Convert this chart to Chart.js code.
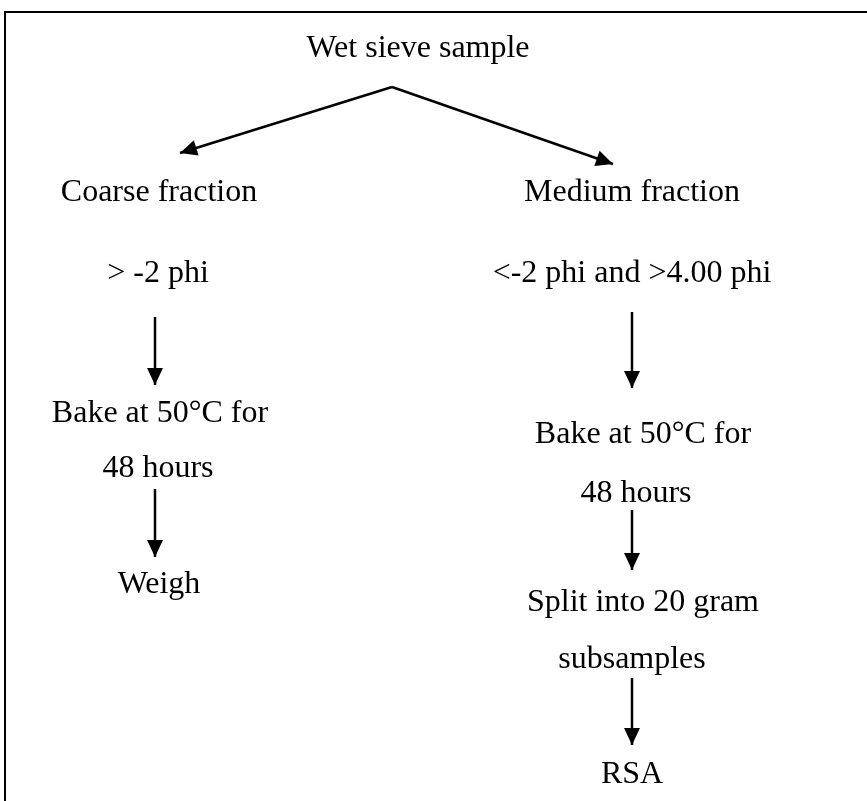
<!DOCTYPE html>
<html lang="en">
<head>
    <meta charset="UTF-8">
    <title>Wet sieve sample flow</title>
    <script src="https://cdn.jsdelivr.net/npm/chart.js"></script>
    <style>
        html, body { margin: 0; padding: 0; background: #fff; }
        #flowChart { display: block; }
    </style>
</head>
<body>
    <canvas id="flowChart" width="867" height="801"></canvas>

    <script>
        // Node texts and where they sit (x = centre, y = baseline, page units)
        const nodeLabels = [
            'Wet sieve sample',
            'Coarse fraction', '> -2 phi', 'Bake at 50°C for', '48 hours', 'Weigh',
            'Medium fraction', '<-2 phi and >4.00 phi', 'Bake at 50°C for', '48 hours',
            'Split into 20 gram', 'subsamples', 'RSA'
        ];
        const nodeX = [418, 159, 158, 160, 158, 159, 632, 632, 643, 636, 643, 632, 632];
        const nodeY = [57, 201, 282, 422, 477, 593, 201, 282, 443, 502, 611, 668, 783];

        // Arrows: start and end (the head sits at the end)
        const arrowStartX = [392, 392, 155, 155, 632, 632, 632];
        const arrowStartY = [87, 87, 317, 489, 312, 510, 678];
        const arrowEndX   = [180, 613, 155, 155, 632, 632, 632];
        const arrowEndY   = [153, 164, 385, 557, 388, 570, 745];

        // Frame round the figure (top and left edges)
        const frameX = [5, 5, 867];
        const frameY = [801, 12, 12];

        const datasets = [];
        datasets.push({
            data: frameX.map((x, i) => ({ x: x, y: frameY[i] })),
            showLine: true,
            borderColor: '#000',
            borderWidth: 2,
            pointRadius: 0,
            tension: 0
        });
        arrowStartX.forEach((x, i) => {
            datasets.push({
                data: [{ x: x, y: arrowStartY[i] }, { x: arrowEndX[i], y: arrowEndY[i] }],
                showLine: true,
                borderColor: '#000',
                borderWidth: 2.5,
                pointRadius: 0,
                tension: 0,
                isArrow: true
            });
        });

        // Draws an arrow head at the last point of each arrow dataset
        const arrowHeads = {
            id: 'arrowHeads',
            afterDatasetsDraw(chart) {
                const ctx = chart.ctx;
                const xs = chart.scales.x, ys = chart.scales.y;
                chart.data.datasets.forEach(ds => {
                    if (!ds.isArrow) return;
                    const a = ds.data[0], b = ds.data[1];
                    const x0 = xs.getPixelForValue(a.x), y0 = ys.getPixelForValue(a.y);
                    const x1 = xs.getPixelForValue(b.x), y1 = ys.getPixelForValue(b.y);
                    const ang = Math.atan2(y1 - y0, x1 - x0);
                    const len = 17, half = 8;
                    ctx.save();
                    ctx.translate(x1, y1);
                    ctx.rotate(ang);
                    ctx.beginPath();
                    ctx.moveTo(0, 0);
                    ctx.lineTo(-len, -half);
                    ctx.lineTo(-len, half);
                    ctx.closePath();
                    ctx.fillStyle = '#000';
                    ctx.fill();
                    ctx.restore();
                });
            }
        };

        // Draws the node texts at their data positions
        const nodeText = {
            id: 'nodeText',
            afterDatasetsDraw(chart) {
                const ctx = chart.ctx;
                const xs = chart.scales.x, ys = chart.scales.y;
                ctx.save();
                ctx.fillStyle = '#000';
                ctx.font = '32px "Liberation Serif", "Times New Roman", serif';
                ctx.textAlign = 'center';
                ctx.textBaseline = 'alphabetic';
                nodeLabels.forEach((t, i) => {
                    ctx.fillText(t, xs.getPixelForValue(nodeX[i]), ys.getPixelForValue(nodeY[i]));
                });
                ctx.restore();
            }
        };

        new Chart(document.getElementById('flowChart'), {
            type: 'scatter',
            data: { datasets: datasets },
            options: {
                responsive: false,
                animation: false,
                layout: { padding: 0 },
                plugins: {
                    legend: { display: false },
                    tooltip: { enabled: false }
                },
                scales: {
                    x: { type: 'linear', min: 0, max: 867, display: false },
                    y: { type: 'linear', min: 0, max: 801, reverse: true, display: false }
                }
            },
            plugins: [arrowHeads, nodeText]
        });
    </script>
</body>
</html>
